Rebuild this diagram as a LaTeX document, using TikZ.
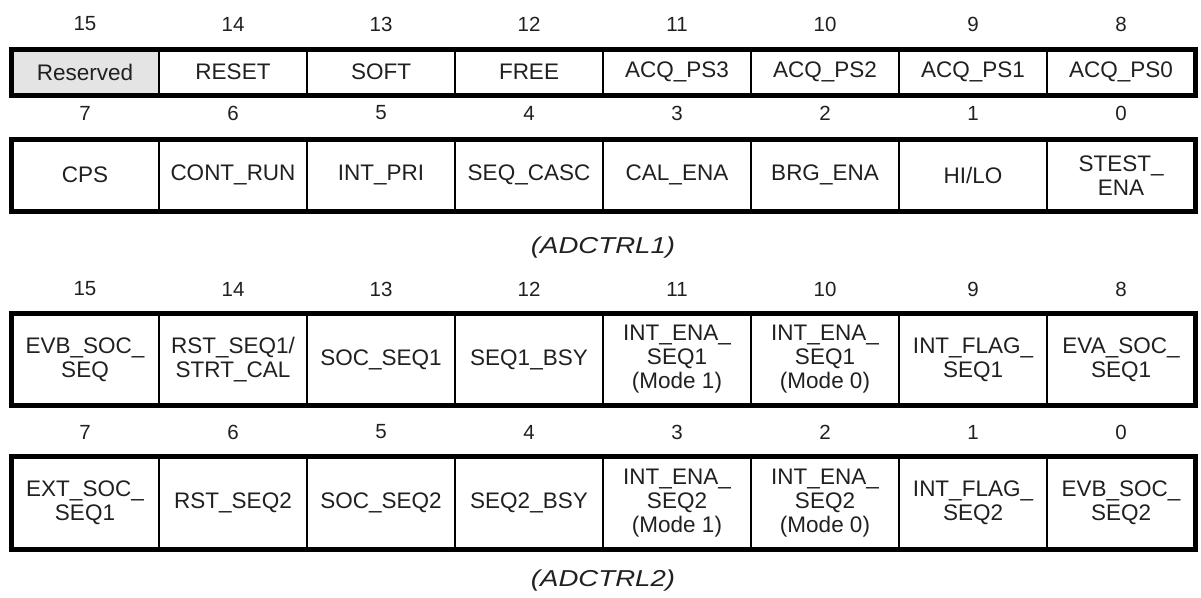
\documentclass[tikz,border=0pt]{standalone}
\usepackage{fontspec}
\setmainfont{Liberation Sans}
\definecolor{resv}{RGB}{228,228,228}
\definecolor{ink}{RGB}{32,32,32}
\begin{document}
\begin{tikzpicture}[x=1pt,y=-1pt,
  cell/.style={draw=black, line width=2.6pt, minimum width=148pt, inner sep=0pt, outer sep=0pt,
    align=center, text=ink, font=\fontsize{22.5}{24}\selectfont},
  bitnum/.style={text=ink, font=\fontsize{20.5}{22}\selectfont, inner sep=0pt},
  regcap/.style={text=ink, font=\fontsize{23}{26}\selectfont\itshape, inner sep=0pt},
  outerbox/.style={draw=black, line width=5pt}]
\useasboundingbox (0,0) rectangle (1201,597);

% ---- ADCTRL1, bits 15..8
\foreach \i/\n/\t in {0/15/Reserved,1/14/RESET,2/13/SOFT,3/12/FREE,4/11/ACQ\_PS3,5/10/ACQ\_PS2,6/9/ACQ\_PS1,7/8/ACQ\_PS0}{
  \node[bitnum] (na\i) at ({85+148*\i},24) {\n};
  \node[cell, minimum height=45.5pt] (a\i) at ({85+148*\i},72.25) {\t};
}
\fill[resv] ([xshift=1.3pt,yshift=-1.3pt]a0.north west) rectangle ([xshift=-1.3pt,yshift=1.3pt]a0.south east);
\node[text=ink, font=\fontsize{22.5}{24}\selectfont, inner sep=0pt] (resvtxt) at (a0.center) {Reserved};
\draw[outerbox] (a0.north west) rectangle (a7.south east);

% ---- ADCTRL1, bits 7..0
\foreach \i/\n/\t in {0/7/CPS,1/6/CONT\_RUN,2/5/INT\_PRI,3/4/SEQ\_CASC,4/3/CAL\_ENA,5/2/BRG\_ENA,6/1/{HI/LO},7/0/{STEST\_\\ENA}}{
  \node[bitnum] (nb\i) at ({85+148*\i},113) {\n};
  \node[cell, minimum height=71.5pt] (b\i) at ({85+148*\i},175.25) {\t};
}
\draw[outerbox] (b0.north west) rectangle (b7.south east);

\node[regcap] (cap1) at (603,248) {\scalebox{1.2}[1]{(ADCTRL1)}};

% ---- ADCTRL2, bits 15..8
\foreach \i/\n/\t in {0/15/{EVB\_SOC\_\\SEQ},1/14/{RST\_SEQ1/\\STRT\_CAL},2/13/SOC\_SEQ1,3/12/SEQ1\_BSY,
  4/11/{INT\_ENA\_\\SEQ1\\(Mode 1)},5/10/{INT\_ENA\_\\SEQ1\\(Mode 0)},6/9/{INT\_FLAG\_\\SEQ1},7/8/{EVA\_SOC\_\\SEQ1}}{
  \node[bitnum] (nc\i) at ({85+148*\i},289) {\n};
  \node[cell, minimum height=92pt] (c\i) at ({85+148*\i},359.5) {\t};
}
\draw[outerbox] (c0.north west) rectangle (c7.south east);

% ---- ADCTRL2, bits 7..0
\foreach \i/\n/\t in {0/7/{EXT\_SOC\_\\SEQ1},1/6/RST\_SEQ2,2/5/SOC\_SEQ2,3/4/SEQ2\_BSY,
  4/3/{INT\_ENA\_\\SEQ2\\(Mode 1)},5/2/{INT\_ENA\_\\SEQ2\\(Mode 0)},6/1/{INT\_FLAG\_\\SEQ2},7/0/{EVB\_SOC\_\\SEQ2}}{
  \node[bitnum] (nd\i) at ({85+148*\i},432) {\n};
  \node[cell, minimum height=93pt] (d\i) at ({85+148*\i},503) {\t};
}
\draw[outerbox] (d0.north west) rectangle (d7.south east);

\node[regcap] (cap2) at (603,581) {\scalebox{1.2}[1]{(ADCTRL2)}};
\end{tikzpicture}
\end{document}
